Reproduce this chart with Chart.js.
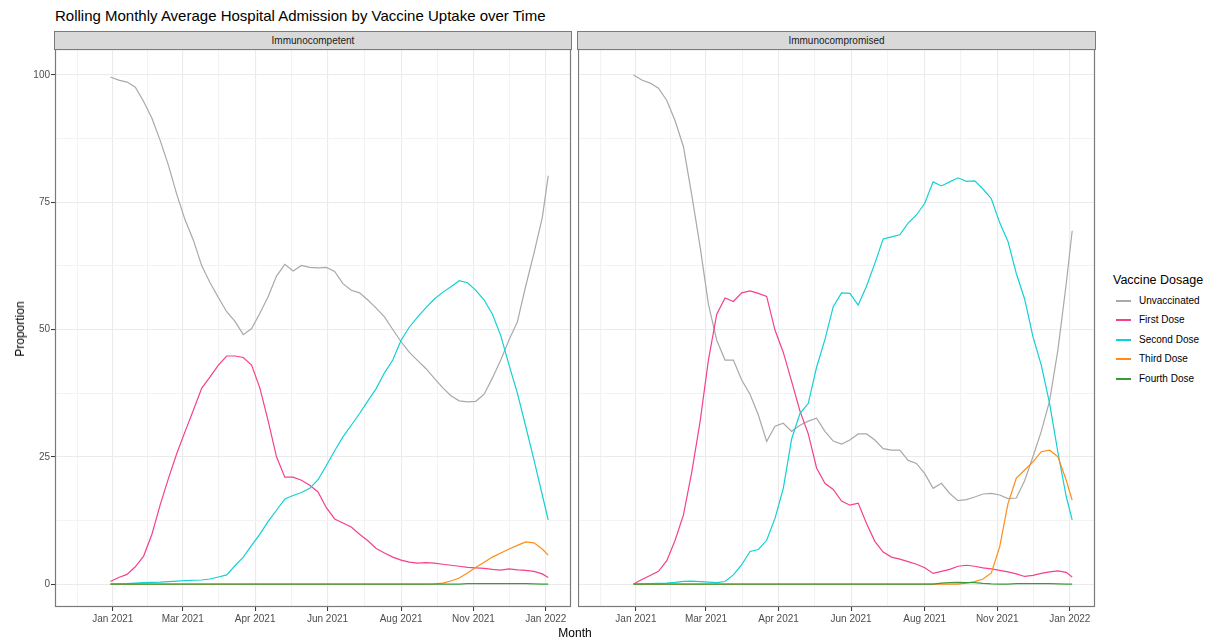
<!DOCTYPE html>
<html>
<head>
<meta charset="utf-8">
<script src="https://cdn.jsdelivr.net/npm/chart.js@4/dist/chart.umd.min.js"></script>
<style>
  body { margin: 0; background: #fff; font-family: "Liberation Sans", Arial, sans-serif; }
  #wrap { position: relative; width: 1208px; height: 644px; overflow: hidden; background: #fff; }
  canvas { position: absolute; }
  .strip { position: absolute; top: 31px; height: 17px; background: #d9d9d9; border: 1px solid #7a7a7a;
           box-sizing: content-box; font-size: 10px; color: #1a1a1a; text-align: center; line-height: 17px; }
  #subtitle { position: absolute; left: 55px; top: 7px; font-size: 15px; color: #000; }
  #ytitle { position: absolute; left: 20px; top: 329px; font-size: 12px; color: #000;
            transform: translate(-50%, -50%) rotate(-90deg); white-space: nowrap; }
  #xtitle { position: absolute; left: 575px; top: 633px; font-size: 12px; color: #000; transform: translate(-50%, -50%); }
  #legend { position: absolute; left: 1113px; top: 273px; }
  #legend .title { font-size: 12.5px; color: #000; margin-bottom: 5px; }
  #legend .item { height: 19.4px; position: relative; font-size: 10px; color: #000; }
  #legend .key { position: absolute; left: 3px; top: 8px; width: 15px; height: 2px; }
  #legend .lab { position: absolute; left: 26px; top: 3px; }
</style>
</head>
<body>
<div id="wrap">
  <div id="subtitle">Rolling Monthly Average Hospital Admission by Vaccine Uptake over Time</div>
  <div class="strip" style="left:54px; width:516px;">Immunocompetent</div>
  <div class="strip" style="left:577px; width:517px;">Immunocompromised</div>
  <canvas id="left-canvas" width="572" height="595" style="left:0; top:49px;"></canvas>
  <canvas id="right-canvas" width="518" height="595" style="left:578px; top:49px;"></canvas>
  <div id="ytitle">Proportion</div>
  <div id="xtitle">Month</div>
  <div id="legend"></div>
</div>
<script>
'use strict';

// days since 1 Jan 2021, sampled weekly
var days = [-2, 5, 12, 19, 26, 33, 40, 47, 54, 61, 68, 75, 82, 89, 96, 103, 110, 117, 124, 131,
  138, 145, 152, 159, 166, 173, 180, 187, 194, 201, 208, 215, 222, 229, 236, 243, 250, 257, 264, 271,
  278, 285, 292, 299, 306, 313, 320, 327, 334, 341, 348, 355, 362, 367];

var seriesNames = ['Unvaccinated', 'First Dose', 'Second Dose', 'Third Dose', 'Fourth Dose'];
var seriesColors = ['#a9a9a9', '#f5408c', '#12d0d4', '#ff8c1a', '#3a9a3a'];

// Immunocompetent
var competentUnvaccinated = [99.6, 99.0, 98.6, 97.6, 94.8, 91.5, 87.1, 82.2, 76.5, 71.5,
  67.5, 62.5, 59.2, 56.3, 53.5, 51.6, 49.0, 50.2, 53.2, 56.5,
  60.5, 62.8, 61.5, 62.6, 62.2, 62.1, 62.2, 61.4, 59.0, 57.7,
  57.2, 55.8, 54.2, 52.5, 50.0, 47.6, 45.5, 43.9, 42.3, 40.4,
  38.6, 37.0, 36.0, 35.8, 35.9, 37.3, 40.5, 44.0, 48.0, 51.5,
  58.5, 65.0, 72.0, 80.2];
var competentFirst = [0.5, 1.3, 1.9, 3.4, 5.5, 9.8, 15.6, 20.8, 25.7, 30.0,
  34.2, 38.5, 40.7, 43.0, 44.8, 44.8, 44.5, 43.0, 38.5, 32.0,
  25.0, 21.0, 21.0, 20.4, 19.4, 18.1, 15.0, 12.8, 12.0, 11.2,
  9.8, 8.5, 7.0, 6.1, 5.3, 4.7, 4.3, 4.1, 4.2, 4.1,
  3.9, 3.7, 3.5, 3.3, 3.2, 3.1, 2.9, 2.75, 3.0, 2.8,
  2.7, 2.5, 2.0, 1.3];
var competentSecond = [0, 0.05, 0.1, 0.2, 0.3, 0.35, 0.4, 0.5, 0.6, 0.7,
  0.75, 0.8, 1.0, 1.4, 1.8, 3.6, 5.3, 7.6, 9.8, 12.3,
  14.5, 16.7, 17.4, 18.0, 18.8, 20.5, 23.3, 26.2, 28.9, 31.2,
  33.5, 36.0, 38.4, 41.5, 44.0, 47.9, 50.5, 52.5, 54.3, 56.0,
  57.3, 58.4, 59.6, 59.2, 57.7, 55.8, 53.0, 48.8, 43.0, 37.5,
  31.0, 24.4, 17.5, 12.6];
var competentThird = [0, 0, 0, 0, 0, 0, 0, 0, 0, 0,
  0, 0, 0, 0, 0, 0, 0, 0, 0, 0,
  0, 0, 0, 0, 0, 0, 0, 0, 0, 0,
  0, 0, 0, 0, 0, 0, 0, 0, 0, 0.05,
  0.2, 0.6, 1.2, 2.2, 3.3, 4.3, 5.3, 6.1, 6.9, 7.6,
  8.3, 8.1, 6.9, 5.7];
var competentFourth = [0, 0, 0, 0, 0, 0, 0, 0, 0, 0,
  0, 0, 0, 0, 0, 0, 0, 0, 0, 0,
  0, 0, 0, 0, 0, 0, 0, 0, 0, 0,
  0, 0, 0, 0, 0, 0, 0, 0, 0, 0,
  0, 0, 0, 0.1, 0.1, 0.1, 0.1, 0.1, 0.1, 0.1,
  0.1, 0.05, 0, 0];

// Immunocompromised
var compromisedUnvaccinated = [100, 99.0, 98.4, 97.4, 95.0, 91.0, 85.9, 76.4, 66.3, 55.0,
  47.9, 44.0, 44.0, 40.1, 37.3, 33.2, 28.0, 31.0, 31.6, 30.0,
  31.2, 32.0, 32.6, 30.0, 28.1, 27.5, 28.3, 29.5, 29.5, 28.3,
  26.6, 26.3, 26.3, 24.3, 23.7, 21.7, 18.8, 19.8, 17.8, 16.4,
  16.6, 17.1, 17.7, 17.8, 17.5, 16.8, 16.9, 20.3, 25.0, 30.0,
  36.0, 46.0, 59.0, 69.4];
var compromisedFirst = [0, 0.9, 1.7, 2.5, 4.6, 8.6, 13.6, 22.0, 31.9, 44.0,
  53.0, 56.2, 55.5, 57.2, 57.6, 57.1, 56.5, 49.9, 45.5, 39.8,
  34.0, 29.5, 22.8, 19.8, 18.6, 16.3, 15.5, 15.9, 11.9, 8.4,
  6.3, 5.3, 4.9, 4.4, 3.9, 3.2, 2.1, 2.5, 2.9, 3.5,
  3.7, 3.5, 3.2, 3.0, 2.7, 2.4, 2.0, 1.5, 1.7, 2.1,
  2.4, 2.6, 2.3, 1.4];
var compromisedSecond = [0, 0.05, 0.1, 0.15, 0.2, 0.35, 0.55, 0.6, 0.5, 0.4,
  0.3, 0.5, 1.8, 3.8, 6.4, 6.8, 8.6, 12.9, 18.8, 28.5,
  33.5, 35.5, 42.6, 48.0, 54.5, 57.2, 57.1, 54.8, 58.5, 63.0,
  67.8, 68.2, 68.6, 70.9, 72.5, 74.8, 79.0, 78.2, 79.0, 79.8,
  79.1, 79.2, 77.6, 75.7, 71.0, 67.3, 61.0, 56.0, 48.6, 43.0,
  35.5, 25.9, 17.2, 12.6];
var compromisedThird = [0, 0, 0, 0, 0, 0, 0, 0, 0, 0,
  0, 0, 0, 0, 0, 0, 0, 0, 0, 0,
  0, 0, 0, 0, 0, 0, 0, 0, 0, 0,
  0, 0, 0, 0, 0, 0, 0, 0, 0, 0,
  0.2, 0.5, 1.0, 2.2, 7.3, 15.8, 20.8, 22.4, 24.0, 26.0,
  26.3, 25.0, 20.4, 16.5];
var compromisedFourth = [0, 0, 0, 0, 0, 0, 0, 0, 0, 0,
  0, 0, 0, 0, 0, 0, 0, 0, 0, 0,
  0, 0, 0, 0, 0, 0, 0, 0, 0, 0,
  0, 0, 0, 0, 0, 0, 0, 0.2, 0.3, 0.35,
  0.3, 0.3, 0.15, 0.05, 0, 0, 0.1, 0.1, 0.1, 0.1,
  0.1, 0.05, 0, 0];

// x axis: major breaks (1st of Jan/Mar/May/Jul/Sep/Nov/Jan) and the labels shown on them
var monthDays = [0, 59, 120, 181, 243, 304, 365];
var monthLabels = ['Jan 2021', 'Mar 2021', 'Apr 2021', 'Jun 2021', 'Aug 2021', 'Nov 2021', 'Jan 2022'];
var minorDays = [-30, 29.5, 89.5, 150.5, 212, 273.5, 334.5];
var yMajor = [0, 25, 50, 75, 100];
var yMinor = [12.5, 37.5, 62.5, 87.5];

var xMin = -48.7;
var xMax = 386.2;
var yMin = -4.5;
var yMax = 105.1;

var panelBorder = {
  id: 'panelBorder',
  afterDraw: function (chart) {
    var a = chart.chartArea;
    var ctx = chart.ctx;
    ctx.save();
    ctx.strokeStyle = '#7a7a7a';
    ctx.lineWidth = 1.2;
    ctx.strokeRect(a.left + 0.5, a.top + 0.5, a.right - a.left - 1, a.bottom - a.top - 1);
    ctx.restore();
  }
};

function buildDatasets(seriesList) {
  return seriesList.map(function (values, s) {
    return {
      label: seriesNames[s],
      data: values.map(function (v, i) { return { x: days[i], y: v }; }),
      borderColor: seriesColors[s],
      borderWidth: 1.2,
      pointRadius: 0,
      tension: 0,
      fill: false,
      order: seriesList.length - s
    };
  });
}

function gridColor(majors) {
  return function (ctx) {
    return majors.indexOf(ctx.tick.value) >= 0 ? '#ebebeb' : '#f3f3f3';
  };
}

function tickColor(majors) {
  return function (ctx) {
    return majors.indexOf(ctx.tick.value) >= 0 ? '#333333' : 'rgba(0,0,0,0)';
  };
}

// drop the label overhang padding so the plot area fills the canvas exactly
function noPadding(scale) {
  scale.paddingTop = 0;
  scale.paddingBottom = 0;
  scale.paddingLeft = 0;
  scale.paddingRight = 0;
}

function panelOptions(showYLabels) {
  return {
    responsive: false,
    animation: false,
    events: [],
    layout: { padding: { top: 0, right: 1, bottom: 0, left: 0 } },
    plugins: { legend: { display: false }, tooltip: { enabled: false } },
    scales: {
      x: {
        type: 'linear',
        min: xMin,
        max: xMax,
        afterBuildTicks: function (scale) {
          scale.ticks = minorDays.concat(monthDays).map(function (d) { return { value: d }; });
        },
        afterFit: function (scale) { scale.height = 37; noPadding(scale); },
        border: { display: false },
        grid: { color: gridColor(monthDays), lineWidth: 1.1, tickLength: 4, tickColor: tickColor(monthDays), tickWidth: 1 },
        ticks: {
          autoSkip: false,
          maxRotation: 0,
          padding: 2,
          color: '#4d4d4d',
          font: { family: '"Liberation Sans", Arial, sans-serif', size: 10 },
          callback: function (value) {
            var i = monthDays.indexOf(value);
            return i >= 0 ? monthLabels[i] : '';
          }
        }
      },
      y: {
        type: 'linear',
        min: yMin,
        max: yMax,
        afterBuildTicks: function (scale) {
          scale.ticks = yMinor.concat(yMajor).map(function (v) { return { value: v }; });
        },
        afterFit: function (scale) { scale.width = showYLabels ? 55 : 0; noPadding(scale); },
        border: { display: false },
        grid: {
          color: gridColor(yMajor),
          lineWidth: 1.1,
          drawTicks: showYLabels,
          tickLength: 4,
          tickColor: tickColor(yMajor),
          tickWidth: 1
        },
        ticks: {
          display: showYLabels,
          autoSkip: false,
          padding: 1,
          color: '#4d4d4d',
          font: { family: '"Liberation Sans", Arial, sans-serif', size: 10 },
          callback: function (value) {
            return yMajor.indexOf(value) >= 0 ? String(value) : '';
          }
        }
      }
    }
  };
}

new Chart(document.getElementById('left-canvas').getContext('2d'), {
  type: 'line',
  data: { datasets: buildDatasets([competentUnvaccinated, competentFirst, competentSecond, competentThird, competentFourth]) },
  options: panelOptions(true),
  plugins: [panelBorder]
});

new Chart(document.getElementById('right-canvas').getContext('2d'), {
  type: 'line',
  data: { datasets: buildDatasets([compromisedUnvaccinated, compromisedFirst, compromisedSecond, compromisedThird, compromisedFourth]) },
  options: panelOptions(false),
  plugins: [panelBorder]
});

// legend
var legendEl = document.getElementById('legend');
var legendTitle = document.createElement('div');
legendTitle.className = 'title';
legendTitle.textContent = 'Vaccine Dosage';
legendEl.appendChild(legendTitle);
for (var i = 0; i < seriesNames.length; i++) {
  var item = document.createElement('div');
  item.className = 'item';
  var key = document.createElement('div');
  key.className = 'key';
  key.style.background = seriesColors[i];
  var lab = document.createElement('div');
  lab.className = 'lab';
  lab.textContent = seriesNames[i];
  item.appendChild(key);
  item.appendChild(lab);
  legendEl.appendChild(item);
}
</script>
</body>
</html>
